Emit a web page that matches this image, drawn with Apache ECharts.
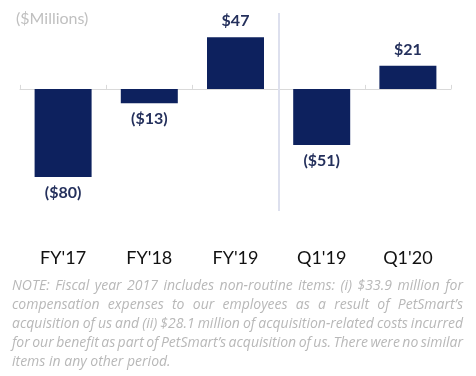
<!DOCTYPE html>
<html><head><meta charset="utf-8">
<script src="https://cdn.jsdelivr.net/npm/echarts@6/dist/echarts.min.js"></script>
<style>html,body{margin:0;padding:0;background:#fff}#c{width:476px;height:376px}</style>
</head><body><div id="c"></div>
<script>
const categories = ["FY'17", "FY'18", "FY'19", "Q1'19", "Q1'20"];
const values = [-80, -13, 47, -51, 21];
const valueLabels = ["($80)", "($13)", "$47", "($51)", "$21"];
const dividerAt = 3; // boundary between annual and quarterly groups
const unitLabel = "($Millions)";
const noteLines = [
  "NOTE: Fiscal year 2017 includes non-routine items: (i) $33.9 million for",
  "compensation expenses to our employees as a result of PetSmart\u2019s",
  "acquisition of us and (ii) $28.1 million of acquisition-related costs incurred",
  "for our benefit as part of PetSmart\u2019s acquisition of us. There were no similar",
  "items in any other period."
];

const noteFont = 'italic 14px "Open Sans"';
const noteLeft = 12, noteWidth = 451, noteTop = 279, noteLH = 19;
const ctx = document.createElement('canvas').getContext('2d');
ctx.font = noteFont;
const noteEls = [];
noteLines.forEach((line, li) => {
  const words = line.split(' ');
  const ww = words.map(w => ctx.measureText(w).width);
  const spaceW = ctx.measureText(' ').width;
  let gap = spaceW;
  if (li < noteLines.length - 1 && words.length > 1) {
    gap = (noteWidth - ww.reduce((a, b) => a + b, 0)) / (words.length - 1);
  }
  let x = noteLeft;
  words.forEach((w, wi) => {
    noteEls.push({type: 'text', x: x, y: noteTop + li * noteLH,
      style: {text: w, font: noteFont, fill: '#b8b8b8'}});
    x += ww[wi] + gap;
  });
});

const chart = echarts.init(document.getElementById('c'), null, {renderer: 'canvas'});
const labelFont = {fontFamily: 'Lato', fontWeight: 'bold', fontSize: 16, color: '#24305c'};
chart.setOption({
  animation: false,
  grid: {left: 20, right: 25, top: 13, bottom: 165},
  xAxis: [
    {
      type: 'category', data: categories, position: 'bottom',
      axisLine: {onZero: true, lineStyle: {color: '#d9d9d9', width: 1}},
      axisTick: {show: true, length: 4, inside: true, lineStyle: {color: '#d9d9d9'}},
      axisLabel: {show: false}, splitLine: {show: false}
    },
    {
      type: 'category', data: categories, position: 'bottom',
      axisLine: {show: false}, axisTick: {show: false}, splitLine: {show: false},
      axisLabel: {show: true, margin: 38, fontFamily: 'Lato', fontSize: 18, color: '#111'}
    },
    {type: 'value', min: 0, max: categories.length, show: false}
  ],
  yAxis: {type: 'value', min: -111, max: 69, show: false, splitLine: {show: false}},
  series: [{
    type: 'bar', xAxisIndex: 0, barWidth: 57,
    data: values.map((v, i) => ({
      value: v,
      label: {show: true, position: v >= 0 ? 'top' : 'bottom', distance: 8,
        formatter: valueLabels[i], ...labelFont}
    })),
    itemStyle: {color: '#0d215e'}
  }, {
    type: 'line', xAxisIndex: 2, data: [],
    markLine: {silent: true, symbol: 'none', label: {show: false},
      lineStyle: {color: '#dde0ee', width: 2, type: 'solid'},
      data: [{xAxis: dividerAt}]}
  }],
  title: {text: unitLabel, left: 11, top: 6,
    textStyle: {fontFamily: 'Lato', fontWeight: 'normal', fontSize: 16, color: '#c0c0c0'}},
  graphic: noteEls
});
</script></body></html>
